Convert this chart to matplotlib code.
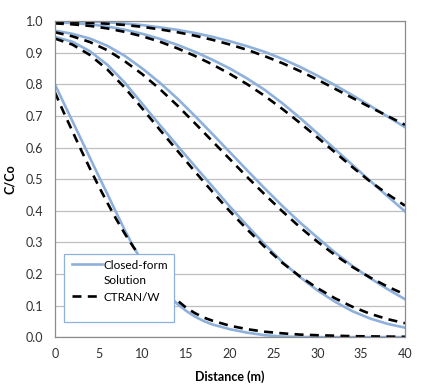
import matplotlib.pyplot as plt
from matplotlib.patches import Rectangle

plt.rcParams['font.family'] = ['Lato', 'DejaVu Sans']

# distance (m) where values were read
x = [0, 2, 4, 6, 8, 10, 12, 14, 16, 18, 20, 22, 24, 26, 28, 30, 32, 34, 36, 38, 40]
x1 = [0, 1, 2, 3, 4, 5, 6, 7, 8, 9, 10, 11, 12, 13, 14, 15, 16, 17, 18, 20,
      22, 24, 26, 28, 30, 34, 40]

# closed-form solution (C/Co)
cf1 = [0.80, 0.742, 0.684, 0.626, 0.568, 0.51, 0.453, 0.395, 0.338, 0.285, 0.238,
       0.197, 0.162, 0.132, 0.105, 0.083, 0.065, 0.051, 0.04, 0.025,
       0.014, 0.006, 0.002, 0.0005, 0.0, 0.0, 0.0]
cf2 = [0.95, 0.935, 0.905, 0.862, 0.805, 0.738, 0.671, 0.606, 0.541, 0.477, 0.413,
       0.352, 0.293, 0.238, 0.19, 0.148, 0.112, 0.082, 0.059, 0.042, 0.03]
cf3 = [0.97, 0.96, 0.945, 0.922, 0.89, 0.85, 0.805, 0.755, 0.70, 0.643, 0.585,
       0.527, 0.47, 0.415, 0.363, 0.315, 0.268, 0.225, 0.187, 0.152, 0.12]
cf4 = [0.996, 0.994, 0.99, 0.983, 0.973, 0.96, 0.944, 0.925, 0.903, 0.878, 0.85,
       0.818, 0.782, 0.74, 0.694, 0.645, 0.595, 0.545, 0.495, 0.446, 0.398]
cf5 = [1.0, 0.9995, 0.9985, 0.9965, 0.9925, 0.9875, 0.9805, 0.9725, 0.9625, 0.9505, 0.9365,
       0.9205, 0.9025, 0.8805, 0.8555, 0.8275, 0.7975, 0.7655, 0.7325, 0.6985, 0.6645]

# CTRAN/W results (C/Co)
ct1 = [0.775, 0.712, 0.652, 0.592, 0.534, 0.478, 0.425, 0.374, 0.327, 0.284, 0.245,
       0.209, 0.176, 0.145, 0.116, 0.093, 0.076, 0.062, 0.052, 0.036,
       0.025, 0.017, 0.012, 0.008, 0.006, 0.003, 0.001]
ct2 = [0.945, 0.926, 0.893, 0.847, 0.789, 0.723, 0.656, 0.59, 0.524, 0.46, 0.398,
       0.34, 0.285, 0.235, 0.192, 0.155, 0.123, 0.096, 0.074, 0.057, 0.044]
ct3 = [0.965, 0.952, 0.934, 0.908, 0.873, 0.832, 0.785, 0.733, 0.677, 0.62, 0.563,
       0.506, 0.451, 0.398, 0.348, 0.302, 0.26, 0.222, 0.189, 0.16, 0.135]
ct4 = [0.993, 0.99, 0.985, 0.977, 0.966, 0.952, 0.935, 0.914, 0.89, 0.863, 0.833,
       0.80, 0.763, 0.722, 0.678, 0.632, 0.585, 0.538, 0.493, 0.453, 0.416]
ct5 = [0.997, 0.9965, 0.995, 0.992, 0.988, 0.982, 0.974, 0.965, 0.954, 0.941, 0.926,
       0.909, 0.889, 0.867, 0.842, 0.815, 0.786, 0.757, 0.728, 0.70, 0.672]

blue = '#8eb1dc'
dash = (0, (3.4, 2.4))

fig = plt.figure(figsize=(4.46, 3.92), dpi=100)
ax = fig.add_axes([0.123, 0.140, 0.785, 0.806])

ax.plot(x1, cf1, color=blue, lw=1.9, label='Closed-form\nSolution')
for c in [cf2, cf3, cf4, cf5]:
    ax.plot(x, c, color=blue, lw=1.9)
ax.plot(x1, ct1, color='black', lw=1.9, ls=dash, label='CTRAN/W')
for c in [ct2, ct3, ct4, ct5]:
    ax.plot(x, c, color='black', lw=1.9, ls=dash)

ax.set_xlim(0, 40)
ax.set_ylim(0, 1.0)
ax.set_xticks(range(0, 41, 5))
ax.set_yticks([i / 10 for i in range(11)])
ax.set_yticklabels(['%.1f' % (i / 10) for i in range(11)])
ax.grid(axis='y', color='#bfbfbf', lw=0.9)
ax.set_axisbelow(True)
for s in ax.spines.values():
    s.set_color('#8c8c8c')
    s.set_linewidth(0.9)
ax.tick_params(length=0, labelsize=9, colors='#303030')
ax.tick_params(axis='y', pad=8.5)
ax.tick_params(axis='x', pad=8)

ax.set_xlabel('Distance (m)', fontsize=9, fontweight='bold', labelpad=7)
ax.set_ylabel('C/Co', fontsize=9, fontweight='bold', labelpad=7)

# legend frame (Excel style, extra room at the bottom)
ax.add_patch(Rectangle((0.0257, 0.0475), 0.314, 0.215, transform=ax.transAxes,
                       facecolor='white', edgecolor=blue, lw=0.9, zorder=4))
leg = ax.legend(loc='upper left', bbox_to_anchor=(0.048, 0.245), borderaxespad=0,
                borderpad=0, fontsize=8.5, frameon=False, handlelength=2.6,
                handletextpad=0.1, labelspacing=0.5)
leg.set_zorder(5)
for t in leg.get_texts():
    t.set_linespacing(1.45)
for col in leg._legend_handle_box.get_children():
    for row in col.get_children():
        row.align = 'top'

fig.savefig('out.png', dpi=100)
